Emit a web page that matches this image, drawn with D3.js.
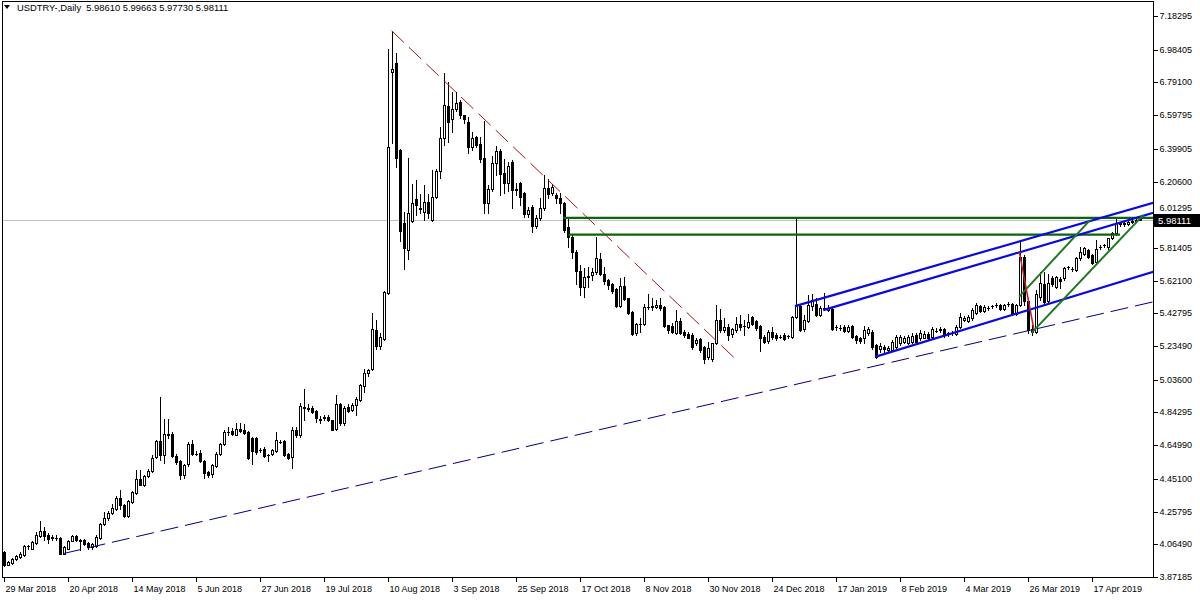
<!DOCTYPE html>
<html><head><meta charset="utf-8">
<script src="https://cdn.jsdelivr.net/npm/d3@7"></script>
<style>
html,body{margin:0;padding:0;background:#fff;}
svg{display:block;}
text{font-family:"Liberation Sans",Arial,sans-serif;}
</style></head><body>
<svg id="c" width="1200" height="600"></svg>
<script>
const symbol = "USDTRY-";
const timeframe = "Daily";
const dateLabels = ["29 Mar 2018","20 Apr 2018","14 May 2018","5 Jun 2018","27 Jun 2018","19 Jul 2018","10 Aug 2018","3 Sep 2018","25 Sep 2018","17 Oct 2018","8 Nov 2018","30 Nov 2018","24 Dec 2018","17 Jan 2019","8 Feb 2019","4 Mar 2019","26 Mar 2019","17 Apr 2019"];
const dateTickBars = [0,16,32,48,64,80,96,112,128,144,160,176,192,208,224,240,256,272];
const priceTicks = [7.18295,6.98405,6.79100,6.59795,6.39905,6.20600,6.01295,5.81405,5.62100,5.42795,5.23490,5.03600,4.84295,4.64990,4.45100,4.25795,4.06490,3.87185];

const opens = [
4.020,3.945,3.955,3.976,3.990,4.000,4.053,4.039,4.073,4.112,
4.142,4.122,4.105,4.104,4.102,4.010,4.039,4.087,4.112,4.093,
4.093,4.075,4.049,4.055,4.104,4.183,4.220,4.250,4.273,4.338,
4.295,4.232,4.315,4.370,4.453,4.417,4.466,4.498,4.581,4.675,
4.590,4.718,4.718,4.586,4.555,4.472,4.537,4.659,4.598,4.604,
4.557,4.492,4.478,4.527,4.600,4.655,4.728,4.735,4.712,4.748,
4.742,4.728,4.693,4.690,4.620,4.630,4.590,4.600,4.616,4.670,
4.673,4.600,4.581,4.738,4.709,4.876,4.872,4.872,4.852,4.807,
4.813,4.815,4.797,4.748,4.890,4.778,4.876,4.860,4.886,4.919,
4.998,5.073,5.097,5.329,5.234,5.279,5.549,6.855,6.903,6.392,
5.959,5.801,5.974,6.100,6.047,6.027,6.086,5.978,6.116,6.270,
6.460,6.651,6.573,6.632,6.677,6.598,6.559,6.407,6.466,6.427,
6.342,6.081,6.159,6.313,6.386,6.254,6.199,6.323,6.155,6.199,
6.136,6.014,6.057,5.943,5.988,6.047,6.165,6.136,6.126,6.106,
6.081,5.939,5.880,5.791,5.680,5.585,5.640,5.653,5.673,5.746,
5.663,5.624,5.604,5.569,5.470,5.588,5.516,5.437,5.313,5.364,
5.364,5.466,5.466,5.466,5.480,5.466,5.358,5.352,5.313,5.384,
5.319,5.309,5.299,5.254,5.274,5.230,5.171,5.161,5.250,5.388,
5.329,5.348,5.305,5.329,5.368,5.352,5.348,5.404,5.384,5.352,
5.289,5.266,5.319,5.299,5.289,5.299,5.293,5.289,5.407,5.470,
5.333,5.384,5.470,5.486,5.417,5.456,5.450,5.451,5.348,5.344,
5.348,5.325,5.352,5.293,5.285,5.280,5.313,5.319,5.240,5.220,
5.230,5.211,5.211,5.230,5.250,5.260,5.250,5.260,5.299,5.280,
5.285,5.309,5.289,5.325,5.333,5.333,5.309,5.313,5.305,5.348,
5.388,5.384,5.398,5.431,5.470,5.443,5.457,5.470,5.476,5.476,
5.451,5.482,5.486,5.427,5.480,5.762,5.500,5.335,5.320,5.526,
5.600,5.500,5.634,5.585,5.630,5.634,5.700,5.690,5.683,5.752,
5.780,5.801,5.771,5.732,5.820,5.830,5.820,5.870,5.900,5.960,
5.958,5.955,5.970,5.975,5.98610];

const highs = [
4.026,3.967,3.982,4.002,4.020,4.063,4.063,4.085,4.138,4.201,
4.167,4.132,4.118,4.118,4.108,4.055,4.089,4.118,4.118,4.099,
4.099,4.081,4.075,4.118,4.191,4.256,4.262,4.300,4.350,4.384,
4.300,4.325,4.380,4.502,4.506,4.472,4.512,4.591,4.679,4.935,
4.807,4.807,4.725,4.600,4.561,4.537,4.669,4.683,4.616,4.620,
4.561,4.500,4.541,4.610,4.665,4.738,4.758,4.750,4.781,4.778,
4.772,4.734,4.699,4.700,4.635,4.640,4.600,4.630,4.728,4.680,
4.680,4.606,4.758,4.758,4.900,4.984,4.890,4.880,4.856,4.820,
4.830,4.830,4.800,4.945,4.900,4.880,4.890,4.900,4.935,5.010,
5.102,5.100,5.431,5.388,5.310,5.560,6.990,7.096,6.962,6.400,
6.027,6.343,6.194,6.214,6.135,6.185,6.135,6.274,6.280,6.530,
6.844,6.795,6.736,6.736,6.687,6.600,6.588,6.500,6.474,6.470,
6.563,6.185,6.356,6.415,6.400,6.337,6.320,6.333,6.195,6.205,
6.146,6.057,6.067,6.008,6.106,6.244,6.218,6.194,6.136,6.136,
6.087,5.988,5.890,5.800,5.712,5.693,5.700,5.693,5.880,5.785,
5.700,5.630,5.610,5.575,5.634,5.644,5.520,5.440,5.370,5.400,
5.486,5.541,5.520,5.506,5.516,5.470,5.360,5.370,5.447,5.398,
5.330,5.320,5.310,5.280,5.280,5.234,5.260,5.254,5.476,5.456,
5.400,5.368,5.340,5.407,5.417,5.388,5.427,5.410,5.390,5.358,
5.300,5.330,5.348,5.310,5.300,5.310,5.300,5.410,5.988,5.476,
5.417,5.535,5.545,5.516,5.470,5.549,5.480,5.460,5.360,5.360,
5.360,5.360,5.360,5.300,5.290,5.352,5.350,5.330,5.246,5.250,
5.240,5.235,5.270,5.300,5.300,5.295,5.300,5.310,5.310,5.330,
5.325,5.320,5.345,5.340,5.345,5.340,5.320,5.325,5.360,5.430,
5.415,5.420,5.460,5.490,5.480,5.475,5.470,5.480,5.490,5.485,
5.485,5.495,5.490,5.485,5.850,5.770,5.520,5.360,5.565,5.673,
5.673,5.660,5.650,5.650,5.640,5.700,5.710,5.700,5.760,5.820,
5.820,5.810,5.780,5.860,5.830,5.840,5.875,5.910,5.988,5.970,
5.975,5.980,5.985,5.990,5.99663];

const lows = [
3.937,3.941,3.951,3.970,3.986,3.996,4.039,4.035,4.069,4.108,
4.093,4.073,4.093,4.093,4.006,4.006,4.035,4.083,4.085,4.033,
4.059,4.039,4.035,4.049,4.098,4.177,4.210,4.244,4.268,4.275,
4.226,4.226,4.310,4.364,4.413,4.410,4.460,4.492,4.577,4.560,
4.545,4.690,4.580,4.540,4.453,4.459,4.526,4.590,4.590,4.550,
4.459,4.463,4.463,4.520,4.594,4.649,4.708,4.710,4.708,4.728,
4.718,4.571,4.541,4.600,4.610,4.580,4.557,4.594,4.610,4.660,
4.584,4.571,4.518,4.700,4.699,4.800,4.850,4.840,4.787,4.778,
4.800,4.790,4.738,4.742,4.770,4.770,4.845,4.850,4.830,4.910,
4.965,5.060,5.093,5.220,5.220,5.270,5.545,6.431,6.293,5.856,
5.687,5.746,5.968,6.008,6.021,5.978,5.988,5.974,6.110,6.225,
6.421,6.441,6.500,6.620,6.578,6.550,6.376,6.390,6.410,6.323,
6.018,6.021,6.151,6.244,6.126,6.136,6.150,6.047,6.126,6.067,
5.998,5.998,5.909,5.930,5.980,6.040,6.106,6.126,6.077,6.022,
5.909,5.821,5.752,5.604,5.535,5.522,5.585,5.624,5.663,5.653,
5.600,5.569,5.550,5.465,5.466,5.506,5.425,5.300,5.300,5.320,
5.358,5.456,5.450,5.457,5.447,5.345,5.310,5.310,5.309,5.309,
5.290,5.280,5.220,5.240,5.201,5.136,5.161,5.148,5.246,5.320,
5.320,5.270,5.290,5.320,5.330,5.300,5.340,5.360,5.330,5.207,
5.250,5.250,5.274,5.270,5.280,5.270,5.280,5.280,5.400,5.325,
5.325,5.378,5.447,5.410,5.410,5.447,5.440,5.330,5.330,5.330,
5.315,5.315,5.280,5.254,5.250,5.254,5.300,5.220,5.167,5.200,
5.200,5.200,5.205,5.225,5.240,5.250,5.245,5.255,5.255,5.270,
5.280,5.275,5.285,5.315,5.320,5.290,5.295,5.300,5.300,5.340,
5.380,5.375,5.390,5.425,5.435,5.435,5.445,5.460,5.465,5.445,
5.445,5.470,5.420,5.420,5.470,5.480,5.310,5.300,5.310,5.506,
5.486,5.490,5.590,5.580,5.580,5.625,5.690,5.675,5.675,5.740,
5.770,5.755,5.720,5.726,5.810,5.820,5.810,5.865,5.890,5.945,
5.945,5.950,5.960,5.965,5.97730];

const closes = [
3.941,3.961,3.976,3.996,4.010,4.057,4.057,4.079,4.118,4.142,
4.112,4.099,4.104,4.103,4.010,4.049,4.083,4.112,4.089,4.085,
4.065,4.049,4.069,4.108,4.183,4.220,4.250,4.280,4.338,4.295,
4.232,4.320,4.374,4.449,4.417,4.466,4.496,4.577,4.675,4.590,
4.718,4.710,4.586,4.551,4.472,4.531,4.659,4.596,4.600,4.557,
4.488,4.472,4.531,4.600,4.655,4.728,4.726,4.718,4.748,4.734,
4.722,4.577,4.614,4.610,4.622,4.586,4.592,4.620,4.679,4.670,
4.590,4.577,4.738,4.708,4.880,4.872,4.866,4.846,4.813,4.797,
4.815,4.797,4.742,4.890,4.778,4.872,4.852,4.886,4.925,5.004,
5.073,5.093,5.333,5.234,5.289,5.555,6.411,6.868,6.342,5.915,
5.811,6.018,6.077,6.067,6.045,6.086,6.018,6.116,6.270,6.460,
6.657,6.559,6.632,6.671,6.598,6.573,6.407,6.460,6.421,6.336,
6.077,6.159,6.313,6.388,6.250,6.199,6.297,6.155,6.160,6.116,
6.012,6.037,5.943,5.992,6.047,6.165,6.132,6.175,6.106,6.077,
5.919,5.880,5.791,5.680,5.585,5.640,5.648,5.673,5.752,5.663,
5.620,5.594,5.561,5.470,5.588,5.510,5.431,5.309,5.364,5.366,
5.463,5.467,5.469,5.480,5.462,5.352,5.329,5.319,5.384,5.313,
5.299,5.285,5.230,5.270,5.211,5.161,5.221,5.250,5.388,5.329,
5.348,5.299,5.333,5.368,5.348,5.352,5.378,5.368,5.339,5.285,
5.260,5.319,5.289,5.280,5.290,5.274,5.295,5.407,5.470,5.329,
5.388,5.476,5.506,5.417,5.457,5.459,5.460,5.338,5.347,5.343,
5.325,5.348,5.289,5.270,5.266,5.329,5.338,5.230,5.171,5.238,
5.215,5.226,5.260,5.289,5.289,5.285,5.289,5.293,5.260,5.313,
5.309,5.280,5.333,5.326,5.332,5.299,5.310,5.314,5.348,5.407,
5.400,5.407,5.447,5.476,5.443,5.466,5.458,5.471,5.477,5.453,
5.476,5.483,5.427,5.476,5.762,5.500,5.330,5.320,5.545,5.608,
5.496,5.610,5.600,5.640,5.620,5.693,5.699,5.687,5.752,5.791,
5.811,5.762,5.726,5.805,5.821,5.831,5.870,5.900,5.959,5.958,
5.960,5.970,5.972,5.978,5.98111];

// analysis objects, anchored in [bar index, price]
const redDashTrend = [[96.9, 7.096], [183.6, 5.142]];
const navyDashTrend = [[14.8, 4.010], [287.3, 5.496]];
const blueChannel = [
  [[197.75, 5.4705], [287.3, 6.0805]],
  [[204.8, 5.447], [287.3, 6.021]],
  [[217.75, 5.171], [287.3, 5.673]]
];
const greenLevels = [[[139.8, 5.991], [287.3, 5.991]], [[141.1, 5.893], [279.0, 5.893]]];
const greenChannel = [[[253.8, 5.527], [271.5, 5.978]], [[256.9, 5.313], [284.8, 6.008]]];
const redSpikeLine = [[253.8, 5.795], [257.5, 5.329]];

const svg = d3.select("#c");
const L = 2, R = 1153, T = 1, B = 577;
const x = d3.scaleLinear().domain([0, 287.25]).range([4, 1153]);
const y = d3.scaleLinear().domain([3.87185, 7.18295]).range([577, 16]);
const px = v => Math.round(x(v));
const py = v => Math.round(y(v));

svg.append("rect").attr("x",0).attr("y",0).attr("width",1200).attr("height",600).attr("fill","#fff");

svg.append("defs").append("clipPath").attr("id","plot")
  .append("rect").attr("x",L).attr("y",T).attr("width",R-L).attr("height",B-T);

// bid price line
const lastClose = closes[closes.length-1];
svg.append("line").attr("x1",L).attr("x2",R)
  .attr("y1",py(lastClose)+0.5).attr("y2",py(lastClose)+0.5)
  .attr("stroke","#c0c0c0").attr("stroke-width",1).attr("shape-rendering","crispEdges");

const bars = d3.range(opens.length).map(i => ({i, o:opens[i], h:highs[i], l:lows[i], c:closes[i]}));
const gC = svg.append("g").attr("shape-rendering","crispEdges").attr("clip-path","url(#plot)");
gC.selectAll("line.w").data(bars).join("line").attr("class","w")
  .attr("x1", d=>px(d.i)+0.5).attr("x2", d=>px(d.i)+0.5)
  .attr("y1", d=>py(d.h)).attr("y2", d=>py(d.l)+1)
  .attr("stroke","#000").attr("stroke-width",1);
bars.forEach(d => {
  const cx = px(d.i);
  const top = py(Math.max(d.o,d.c)), bot = py(Math.min(d.o,d.c));
  if (bot - top < 1) {
    gC.append("line").attr("x1",cx-1).attr("x2",cx+2).attr("y1",top+0.5).attr("y2",top+0.5)
      .attr("stroke","#000").attr("stroke-width",1);
  } else {
    gC.append("rect").attr("x",cx-0.5).attr("y",top+0.5).attr("width",2).attr("height",bot-top)
      .attr("fill", d.c >= d.o ? "#fff" : "#000").attr("stroke","#000").attr("stroke-width",1);
  }
});

// objects
const gO = svg.append("g").attr("clip-path","url(#plot)");
const seg = (pts, color, w, dash) => {
  const l = gO.append("line")
    .attr("x1", x(pts[0][0])).attr("y1", y(pts[0][1]))
    .attr("x2", x(pts[1][0])).attr("y2", y(pts[1][1]))
    .attr("stroke", color).attr("stroke-width", w);
  if (dash) l.attr("stroke-dasharray", dash);
};
seg(navyDashTrend, "#000080", 1, "18,7");
seg(redDashTrend, "#a01818", 1, "17,7");
greenLevels.forEach(p => seg(p, "#0b650b", 2.2));
blueChannel.forEach(p => seg(p, "#0a0ae0", 2.2));
greenChannel.forEach(p => seg(p, "#1d7a1d", 2));
seg(redSpikeLine, "#c02020", 1.5);

// frame
svg.append("rect").attr("x",L+0.5).attr("y",T+0.5).attr("width",R-L).attr("height",B-T)
  .attr("fill","none").attr("stroke","#000").attr("stroke-width",1).attr("shape-rendering","crispEdges");

// right price axis
const lastClosePx = py(lastClose)+0.5;
const yAxis = d3.axisRight(y).tickValues(priceTicks).tickSize(4).tickSizeOuter(0)
  .tickFormat(d => d.toFixed(5));
const gy = svg.append("g").attr("transform", `translate(${R+0.5},0)`).call(yAxis);
gy.select(".domain").remove();
gy.selectAll(".tick").attr("transform", d => `translate(0,${py(d)+0.5})`);
gy.selectAll(".tick line").attr("stroke","#000").attr("shape-rendering","crispEdges");
gy.selectAll(".tick text").attr("x",6).attr("fill","#000")
  .style("font-family","'Liberation Sans',Arial,sans-serif").style("font-size","9px");
// label that sits under the current-price box: lift it just above the box
gy.selectAll(".tick text").filter(d => Math.abs(py(d)+0.5 - lastClosePx) < 12)
  .attr("y", d => (lastClosePx - 12) - (py(d)+0.5));

// bottom time axis
const xAxis = d3.axisBottom(x).tickValues(dateTickBars).tickSize(4).tickSizeOuter(0)
  .tickFormat((d,k) => dateLabels[k]);
const gx = svg.append("g").attr("transform", `translate(0,${B+0.5})`).call(xAxis);
gx.select(".domain").remove();
gx.selectAll(".tick").attr("transform", d => `translate(${px(d)+0.5},0)`);
gx.selectAll(".tick line").attr("stroke","#000").attr("shape-rendering","crispEdges");
gx.selectAll(".tick text").attr("text-anchor","start").attr("x",1).attr("y",8).attr("fill","#000")
  .style("font-family","'Liberation Sans',Arial,sans-serif").style("font-size","9px");

// current price label
svg.append("rect").attr("x",R+1).attr("y",lastClosePx-6.5).attr("width",46).attr("height",13).attr("fill","#000");
svg.append("text").attr("x",R+5).attr("y",lastClosePx).attr("dy","0.35em").attr("fill","#fff")
  .style("font-size","9.5px").text(lastClose.toFixed(5));

// title
svg.append("path").attr("d","M4,5 L10,5 L7,9 Z").attr("fill","#000");
const n = opens.length-1;
svg.append("text").attr("x",17).attr("y",11).attr("fill","#000").style("font-size","9.4px")
  .attr("xml:space","preserve")
  .text(`${symbol},${timeframe}  ${opens[n].toFixed(5)} ${highs[n].toFixed(5)} ${lows[n].toFixed(5)} ${closes[n].toFixed(5)}`);
</script>
</body></html>
